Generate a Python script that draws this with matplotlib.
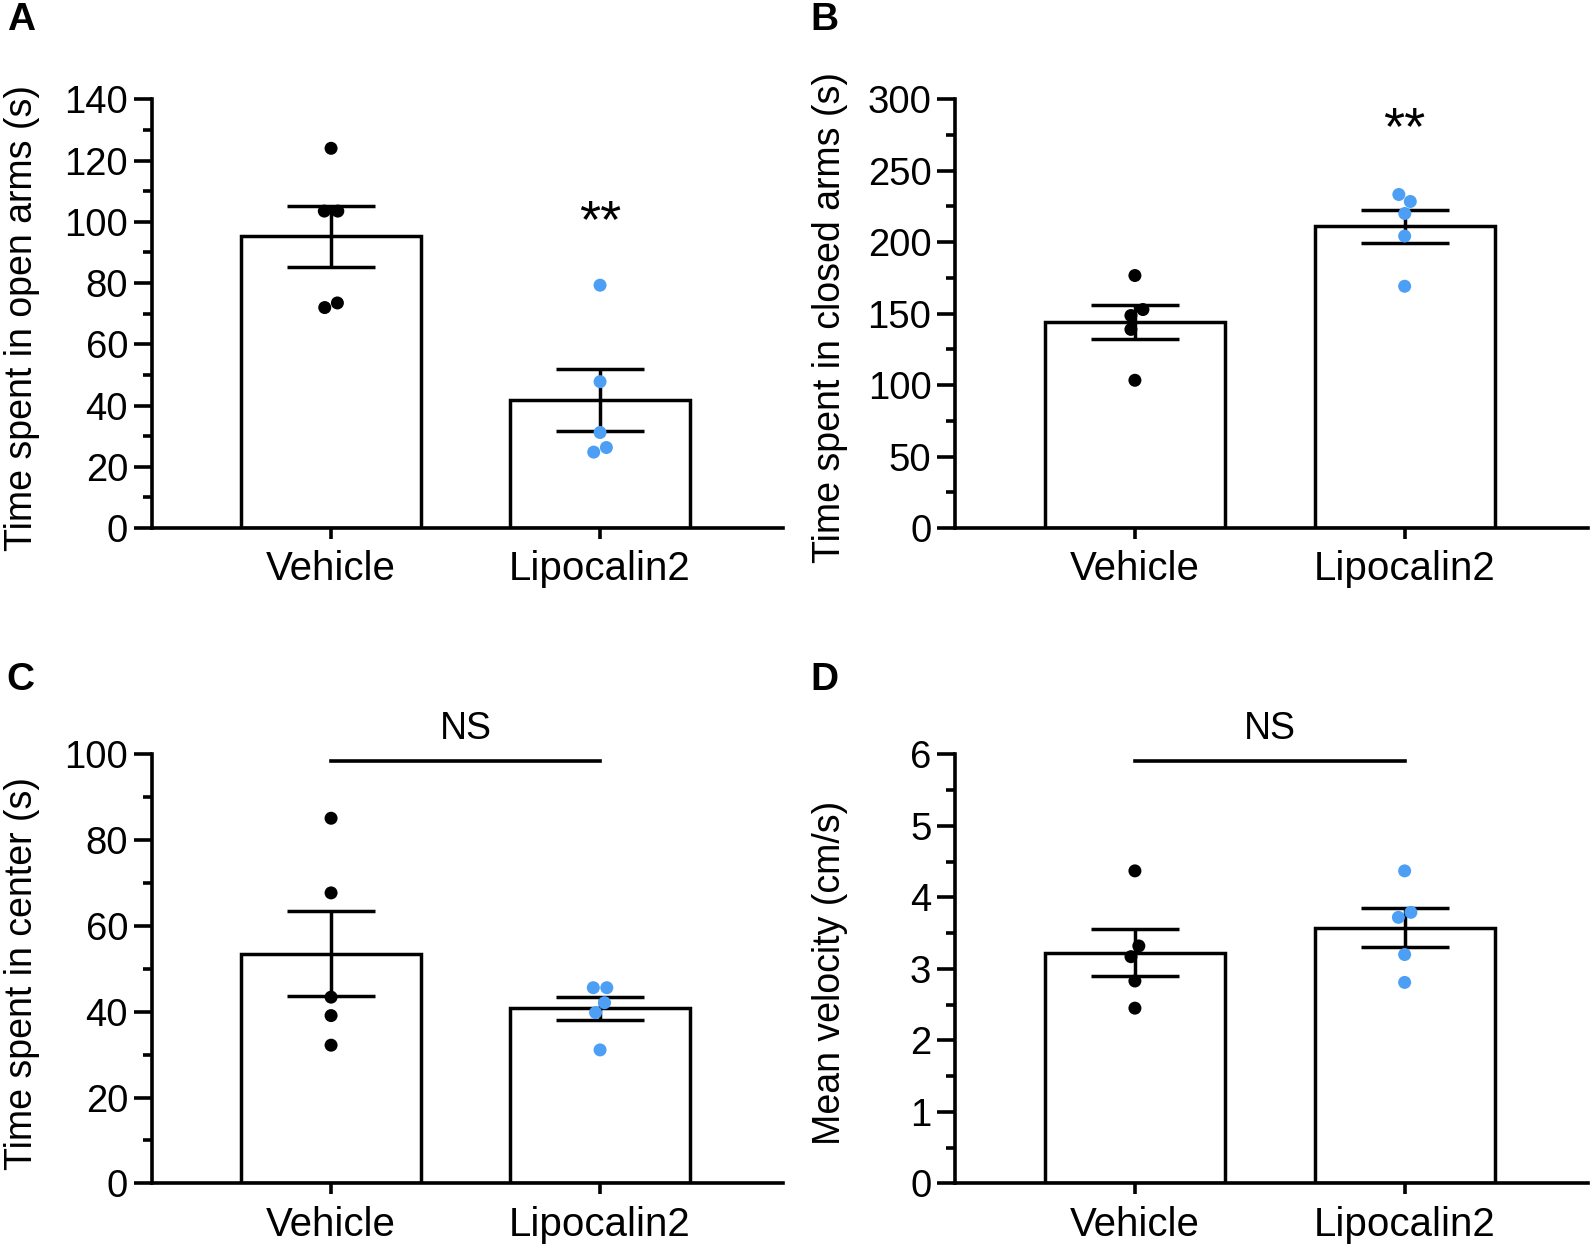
import numpy as np
import matplotlib
matplotlib.use("Agg")
import matplotlib.pyplot as plt
from matplotlib.ticker import MultipleLocator

plt.rcParams['font.family'] = ['Liberation Sans', 'DejaVu Sans']

groups = ["Vehicle", "Lipocalin2"]

# A: time in open arms (s)
open_vehicle = [124.0, 103.5, 103.5, 72.0, 73.5]
open_lcn2 = [79.3, 47.8, 31.2, 24.8, 26.3]
# B: time in closed arms (s)
closed_vehicle = [176.7, 152.9, 148.7, 139.0, 103.4]
closed_lcn2 = [233.4, 228.5, 220.1, 204.3, 169.2]
# C: time in center (s)
center_vehicle = [85.1, 67.7, 43.4, 39.1, 32.2]
center_lcn2 = [45.6, 45.6, 42.1, 39.8, 31.1]
# D: mean velocity (cm/s)
velocity_vehicle = [4.37, 3.32, 3.17, 2.83, 2.45]
velocity_lcn2 = [4.37, 3.79, 3.72, 3.20, 2.81]

ylabels = ["Time spent in open arms (s)", "Time spent in closed arms (s)",
           "Time spent in center (s)", "Mean velocity (cm/s)"]
panel_letters = ["A", "B", "C", "D"]
ymax = [140, 300, 100, 6]
ymajor = [20, 50, 20, 1]
annotations = ["**", "**", "NS", "NS"]
star_y = [95, 269]

black = "#000000"
blue = "#4c9ff5"
dot_px = 13.0

fig = plt.figure(figsize=(15.93, 12.46), dpi=100)
positions = [[0.0952, 0.5762, 0.3963, 0.3441],
             [0.5995, 0.5762, 0.3974, 0.3441],
             [0.0952, 0.0503, 0.3963, 0.3443],
             [0.5995, 0.0503, 0.3974, 0.3443]]
label_x = [-0.177, -0.169, -0.177, -0.169]
letter_dy = [0.078, 0.078, 0.074, 0.074]


def swarm(ax, xc, vals):
    # simple beeswarm: place points greedily, then center each overlapping group
    pts = ax.transData.transform([(xc, v) for v in vals])
    ys = pts[:, 1]
    order = np.argsort(ys)
    xs = np.zeros(len(vals))
    placed = []
    for i in order:
        best = 0.0
        cands = [0.0]
        for j in placed:
            dy = abs(ys[i] - ys[j])
            if dy < dot_px:
                dx = np.sqrt(dot_px ** 2 - dy ** 2) + 0.5
                cands += [xs[j] + dx, xs[j] - dx]
        cands.sort(key=lambda c: (round(abs(c), 3), -c))
        for c in cands:
            ok = all(np.hypot(c - xs[j], ys[i] - ys[j]) >= dot_px for j in placed)
            if ok:
                best = c
                break
        xs[i] = best
        placed.append(i)
    n = len(vals)
    seen = set()
    for i in range(n):
        if i in seen:
            continue
        comp = [i]
        seen.add(i)
        k = 0
        while k < len(comp):
            a = comp[k]
            for b in range(n):
                if b not in seen and np.hypot(xs[a] - xs[b], ys[a] - ys[b]) < dot_px + 1:
                    comp.append(b)
                    seen.add(b)
            k += 1
        shift = np.mean(xs[comp])
        for c in comp:
            xs[c] -= shift
    out = ax.transData.inverted().transform(np.column_stack([pts[:, 0] + xs, ys]))
    return out[:, 0], out[:, 1]


datasets = [(open_vehicle, open_lcn2), (closed_vehicle, closed_lcn2),
            (center_vehicle, center_lcn2), (velocity_vehicle, velocity_lcn2)]

for k, (veh, lcn) in enumerate(datasets):
    ax = fig.add_axes(positions[k])
    ax.set_xlim(-0.667, 1.68)
    ax.set_ylim(0, ymax[k])
    x = np.arange(2)
    means = [np.mean(veh), np.mean(lcn)]
    sems = [np.std(veh, ddof=1) / np.sqrt(len(veh)), np.std(lcn, ddof=1) / np.sqrt(len(lcn))]
    ax.bar(x, means, width=0.667, color="white", edgecolor="black", linewidth=2.5, zorder=1)
    ax.errorbar(x, means, yerr=sems, fmt="none", ecolor="black", elinewidth=2.5,
                capsize=32, capthick=2.5, zorder=3)
    for xc, vals, col in [(0, veh, black), (1, lcn, blue)]:
        px, py = swarm(ax, xc, vals)
        ax.scatter(px, py, s=(dot_px / 1.389) ** 2, color=col, edgecolors="none", zorder=4)

    for side in ["top", "right"]:
        ax.spines[side].set_visible(False)
    for side in ["left", "bottom"]:
        ax.spines[side].set_linewidth(2.6)
    ax.yaxis.set_major_locator(MultipleLocator(ymajor[k]))
    ax.yaxis.set_minor_locator(MultipleLocator(ymajor[k] / 2))
    ax.tick_params(axis="y", which="major", length=13, width=2.6, labelsize=27.5, pad=4)
    ax.tick_params(axis="y", which="minor", length=6.5, width=2.6)
    ax.set_xticks(x)
    ax.set_xticklabels(groups)
    ax.tick_params(axis="x", length=8, width=2.6, labelsize=29, pad=8)
    ax.set_ylabel(ylabels[k], fontsize=27)
    ax.yaxis.set_label_coords(label_x[k], 0.49)

    if annotations[k] == "**":
        ax.text(1, star_y[k], "**", ha="center", va="baseline", fontsize=39)
    else:
        yline = 0.985 * ymax[k]
        ax.plot([0, 1], [yline, yline], color="black", lw=2.6, clip_on=False)
        ax.text(0.5, 1.06 * ymax[k], "NS", ha="center", va="center", fontsize=27,
                clip_on=False)

    fx = positions[k][0] - 0.091
    fy = positions[k][1] + positions[k][3] + letter_dy[k]
    fig.text(fx, fy, panel_letters[k], fontsize=28, fontweight="bold", ha="left", va="top")

fig.savefig("out.png", dpi=100, facecolor="white")
